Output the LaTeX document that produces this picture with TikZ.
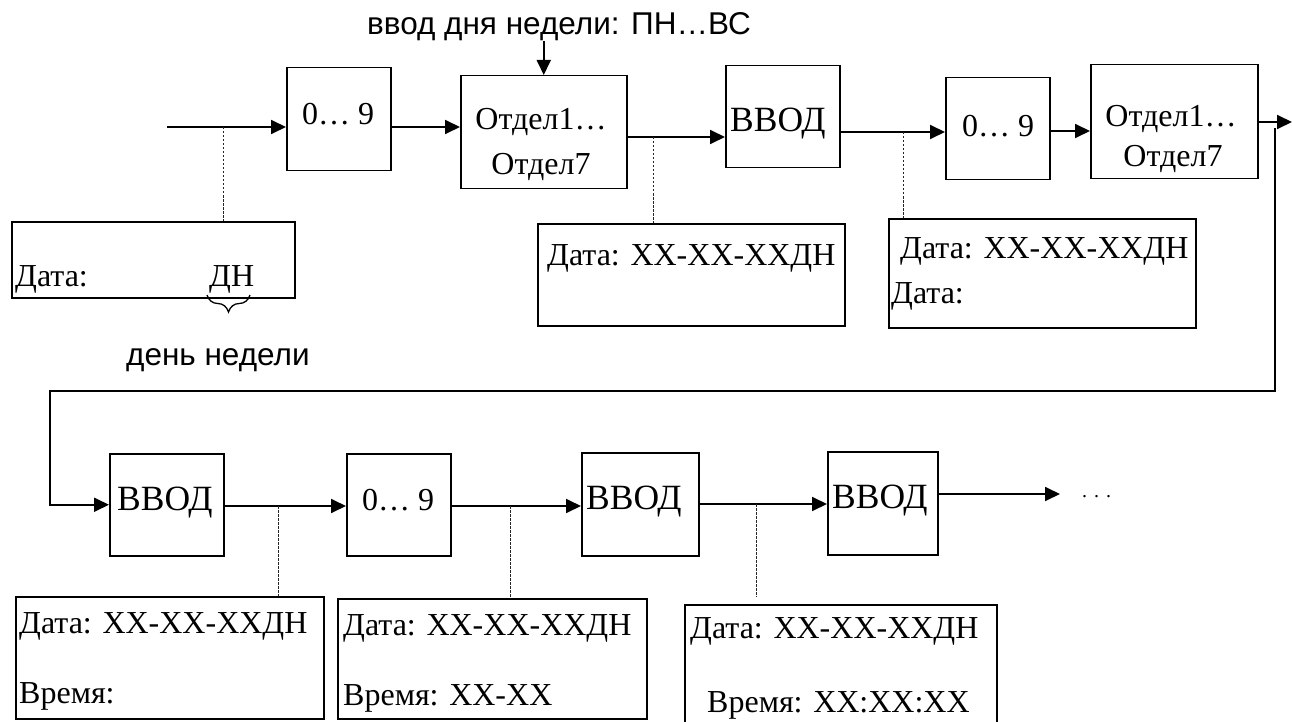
\documentclass[tikz,border=0pt]{standalone}
\usepackage{fontspec}
\setmainfont{Liberation Serif}
\newfontfamily\sansf{Liberation Sans}
\usetikzlibrary{arrows.meta,decorations.pathreplacing}
\begin{document}
\begin{tikzpicture}[x=1pt,y=-1pt,
 blk/.style={draw, line width=1.5pt, inner sep=0pt, anchor=north west},
 dbox/.style={draw, line width=2.2pt, inner sep=0pt, anchor=north west},
 txt/.style={inner sep=0pt, font=\fontsize{32}{38}\selectfont},
 big/.style={inner sep=0pt, font=\fontsize{35.5}{40}\selectfont},
 sans/.style={inner sep=0pt, font=\sansf\fontsize{31.5}{38}\selectfont},
 arr/.style={line width=1.8pt, -{Triangle[length=15pt,width=14pt]}},
 dot/.style={line width=0.9pt, dash pattern=on 2.5pt off 1.5pt, black!85}]
\useasboundingbox (0,0) rectangle (1292,722);
% top row blocks
\node[blk, minimum width=104pt, minimum height=103pt] (n1) at (286,67) {};
\node[blk, minimum width=166pt, minimum height=113pt] (o1) at (460,75) {};
\node[blk, minimum width=114pt, minimum height=102pt] (v1) at (725,65) {};
\node[blk, minimum width=104pt, minimum height=102pt] (n2) at (945,77) {};
\node[blk, minimum width=167pt, minimum height=114pt] (o2) at (1090,64) {};
\node[dbox, minimum width=283pt, minimum height=76pt] (b1) at (11,221) {};
\node[dbox, minimum width=307pt, minimum height=102pt] (b2) at (537,223) {};
\node[dbox, minimum width=307pt, minimum height=109pt] (b3) at (888,218) {};
% bottom row blocks
\node[blk, minimum width=114pt, minimum height=102pt] (v2) at (109,453) {};
\node[blk, minimum width=104pt, minimum height=102pt] (d3) at (346,453) {};
\node[blk, minimum width=117pt, minimum height=103pt] (v3) at (581,452) {};
\node[blk, minimum width=110pt, minimum height=103pt] (v4) at (827,451) {};
\node[dbox, minimum width=308pt, minimum height=122pt] (b4) at (15,596) {};
\node[dbox, minimum width=309pt, minimum height=120pt] (b5) at (337,598) {};
\node[dbox, minimum width=312pt, minimum height=120pt] (b6) at (684,604) {};
% texts top
\node[sans, anchor=base west] (lbl) at (367,35) {ввод дня недели: ПН…ВС};
\node[txt, anchor=base west] (tn1) at (302,125) {0… 9};
\node[txt, anchor=base] (to1a) at (541,130) {Отдел1…};
\node[txt, anchor=base] (to1b) at (541,175) {Отдел7};
\node[big, anchor=base west] (tv1) at (730,132) {ВВОД};
\node[txt, anchor=base west] (tn2) at (962,137) {0… 9};
\node[txt, anchor=base] (to2a) at (1171,127) {Отдел1…};
\node[txt, anchor=base] (to2b) at (1173,167) {Отдел7};
\node[txt, anchor=base west] (tb1a) at (15,286) {Дата:};
\node[txt, anchor=base west] (tb1b) at (209,286) {ДН};
\node[sans, anchor=base west] (dn) at (126,365) {день недели};
\node[txt, anchor=base west] (tb2) at (547,265) {Дата: XX-XX-XXДН};
\node[txt, anchor=base west] (tb3a) at (900,258) {Дата: XX-XX-XXДН};
\node[txt, anchor=base west] (tb3b) at (891,303) {Дата:};
% texts bottom
\node[big, anchor=base west] (tv2) at (117,510) {ВВОД};
\node[txt, anchor=base west] (td3) at (362,510) {0… 9};
\node[big, anchor=base west] (tv3) at (586,509) {ВВОД};
\node[big, anchor=base west] (tv4) at (832,508) {ВВОД};
\node[txt, anchor=base west] (tb4a) at (19,633) {Дата: XX-XX-XXДН};
\node[txt, anchor=base west] (tb4b) at (19,703) {Время:};
\node[txt, anchor=base west] (tb5a) at (343,635) {Дата: XX-XX-XXДН};
\node[txt, anchor=base west] (tb5b) at (343,705) {Время: XX-XX};
\node[txt, anchor=base west] (tb6a) at (690,638) {Дата: XX-XX-XXДН};
\node[txt, anchor=base west] (tb6b) at (707,712) {Время: XX:XX:XX};
\node[inner sep=0pt, anchor=base west, font=\fontsize{20}{24}\selectfont] (dots) at (1082,497) {.\hspace{7pt}.\hspace{7pt}.};
% brace
\draw[line width=1.3pt, decorate, decoration={brace, amplitude=17pt, aspect=0.5}] (250,295) -- (207,295);
% coordinates
\coordinate (in0) at (167,127);
\coordinate (tap1) at (223,127);
\coordinate (tap2) at (653,137);
\coordinate (tap3) at (903,132);
\coordinate (out1) at (1292,122);
\coordinate (r1) at (1275,128);
\coordinate (r2) at (1275,391);
\coordinate (r3) at (50,391);
\coordinate (tap4) at (278,506);
\coordinate (tap5) at (510,506);
\coordinate (tap6) at (756,504);
\coordinate (tap6e) at (756,597);
\coordinate (end) at (1060,494);
% connectors top
\draw[arr] (in0) -- (in0 -| n1.west);
\draw[dot] (tap1) -- (tap1 |- b1.north);
\draw[arr] (n1.east |- 0,127) -- (o1.west |- 0,127);
\draw[arr] (lbl.south -| o1.north) -- (o1.north);
\draw[arr] (o1.east |- 0,137) -- (v1.west |- 0,137);
\draw[dot] (tap2) -- (tap2 |- b2.north);
\draw[arr] (v1.east |- 0,132) -- (n2.west |- 0,132);
\draw[dot] (tap3) -- (tap3 |- b3.north);
\draw[arr] (n2.east |- 0,131) -- (o2.west |- 0,131);
\draw[arr] (o2.east |- out1) -- (out1);
\draw[arr] (r1) -- (r2) -- (r3) |- (v2.west);
% connectors bottom
\draw[arr] (v2.east |- 0,506) -- (d3.west |- 0,506);
\draw[dot] (tap4) -- (tap4 |- b4.north);
\draw[arr] (d3.east |- 0,506) -- (v3.west |- 0,506);
\draw[dot] (tap5) -- (tap5 |- b5.north);
\draw[arr] (v3.east |- 0,504) -- (v4.west |- 0,504);
\draw[dot] (tap6) -- (tap6e);
\draw[arr] (v4.east |- end) -- (end);
\end{tikzpicture}
\end{document}
